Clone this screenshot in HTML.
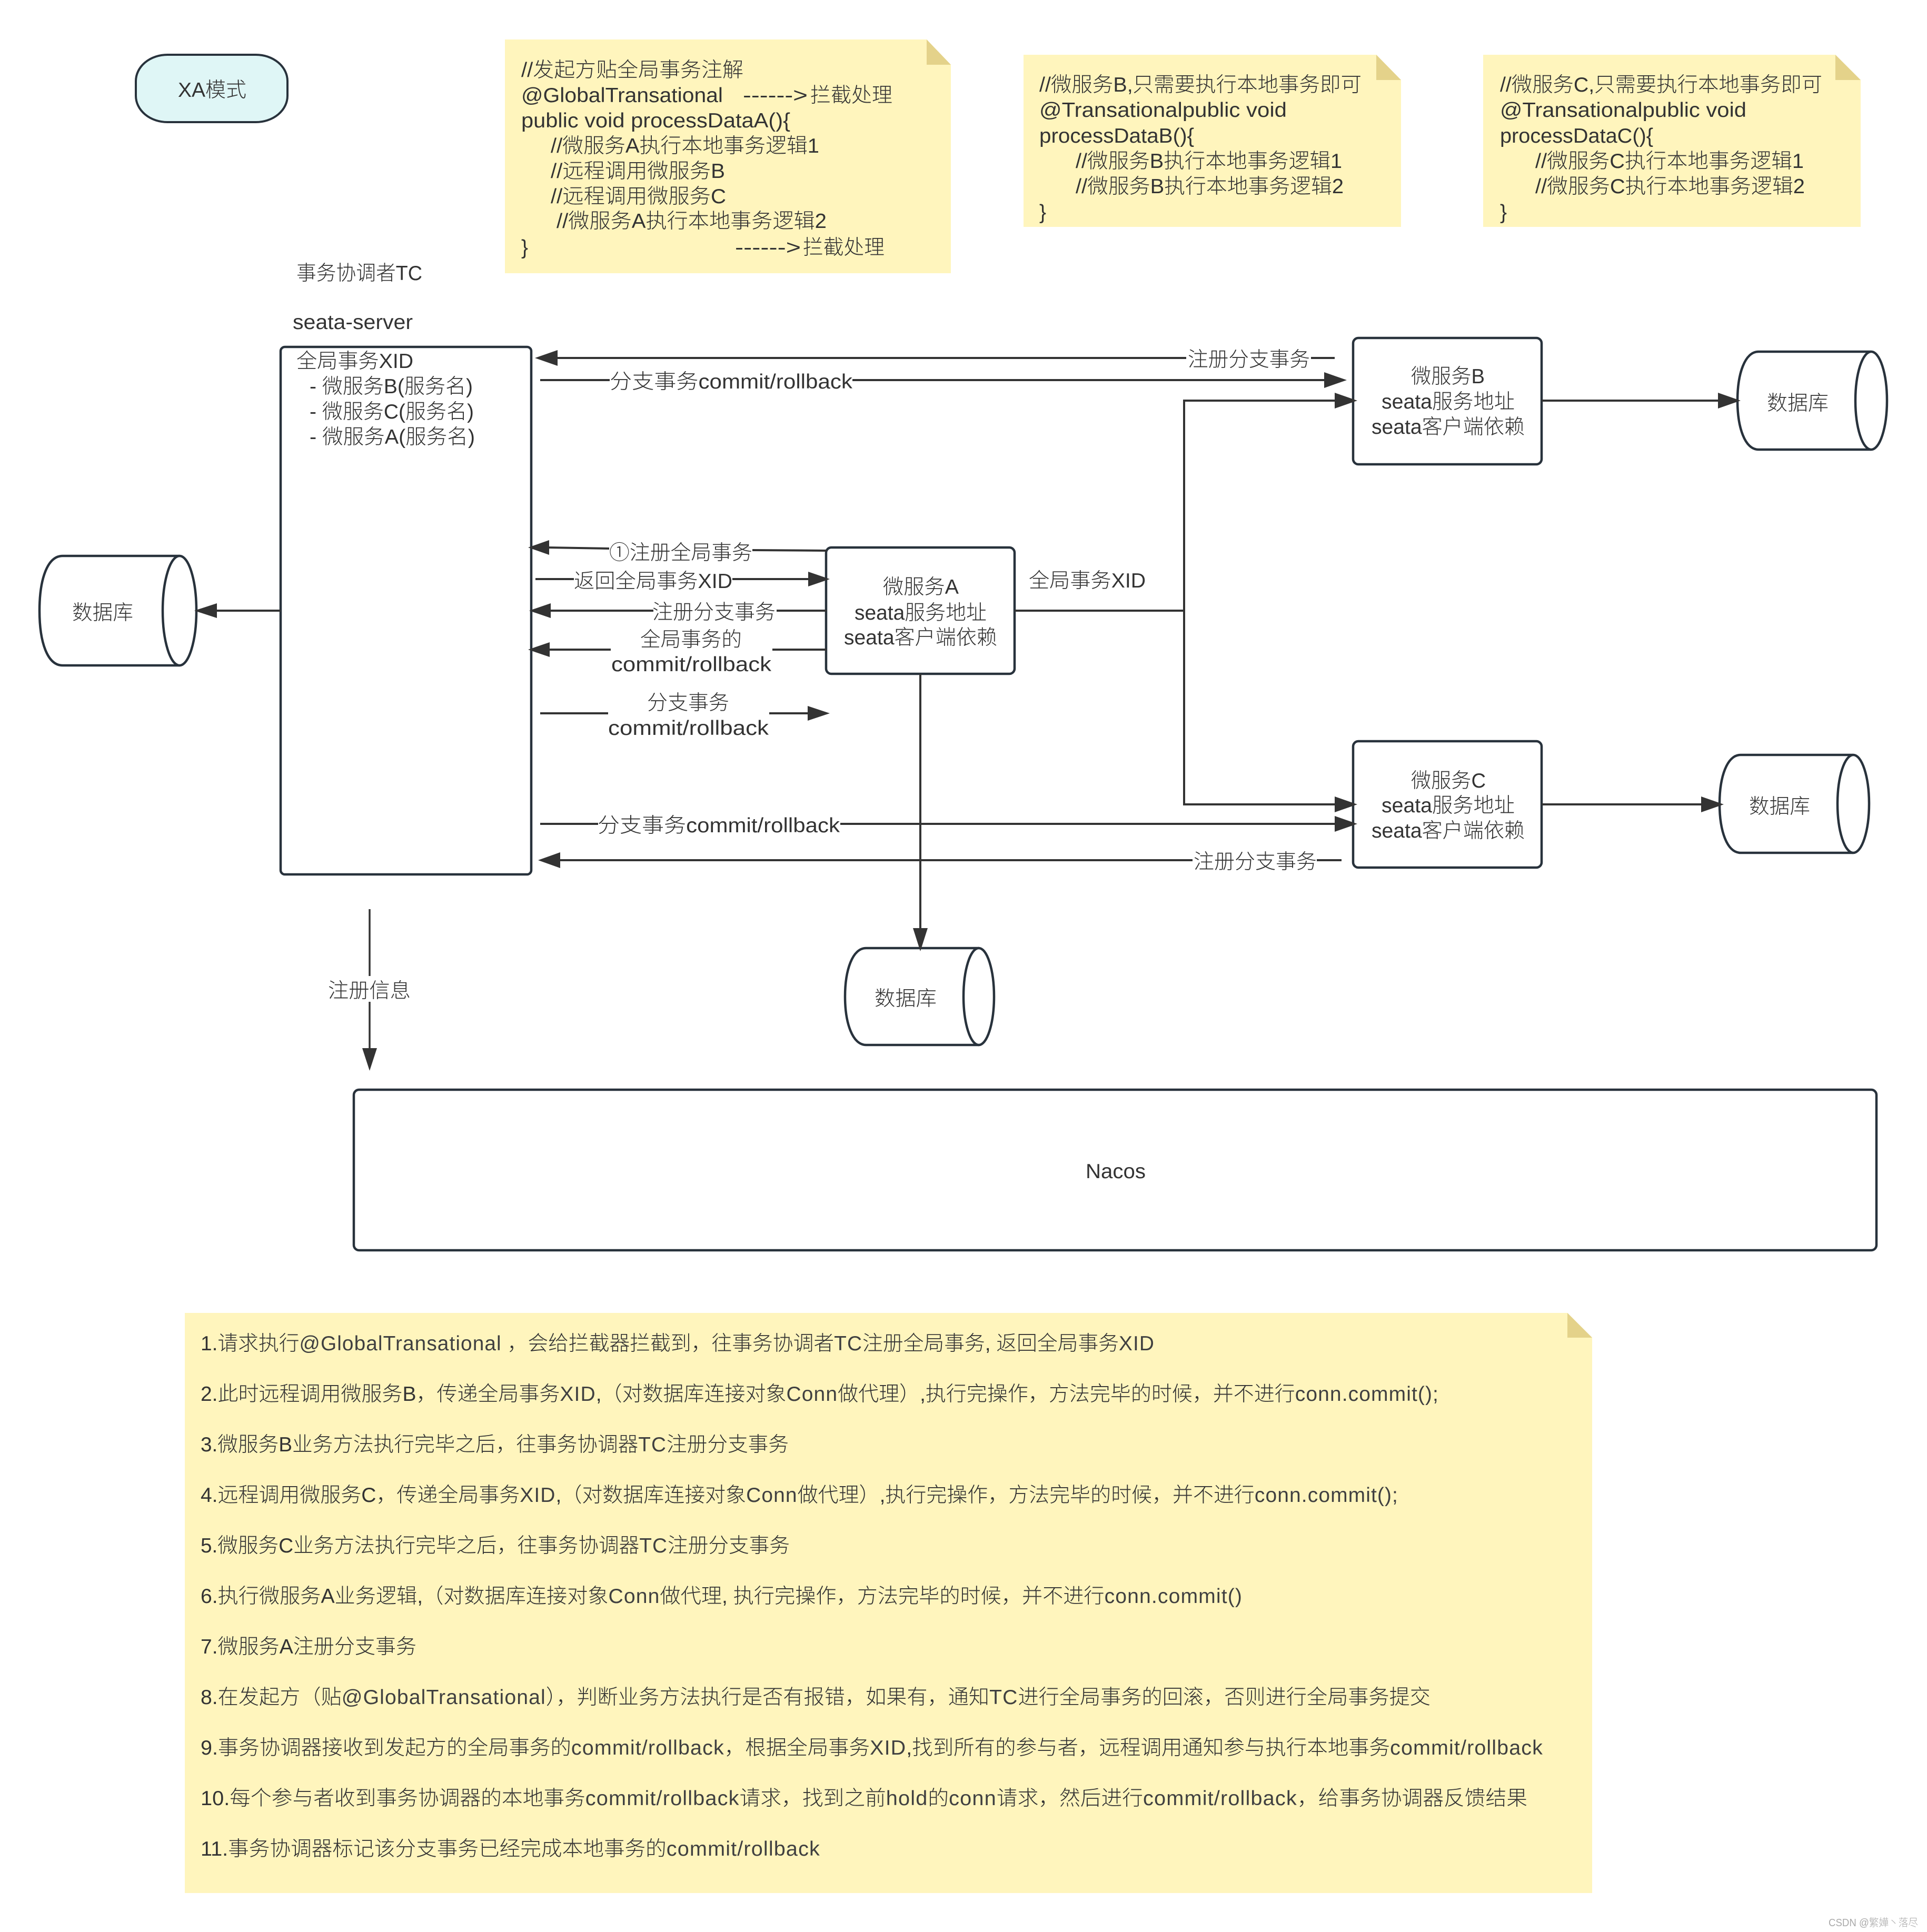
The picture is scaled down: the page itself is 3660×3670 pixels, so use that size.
<!DOCTYPE html>
<html><head><meta charset="utf-8"><style>
html,body{margin:0;padding:0;background:#fff;width:3660px;height:3670px;overflow:hidden}
svg{display:block}
text{font-family:"Liberation Sans","Noto Sans CJK SC",sans-serif;font-size:39px;fill:#333;white-space:pre;font-weight:300}
.a{letter-spacing:1.1px;fill:#404040}
.b{fill:#fff;stroke:#28323c;stroke-width:4.5;stroke-linejoin:round}
.l{stroke:#333;stroke-width:4;fill:none}
.h{fill:#333;stroke:none}
.n{fill:#fff5bd}.f{fill:#e4d28a}
</style></head><body>
<svg width="3660" height="3670" viewBox="0 0 3660 3670" xmlns="http://www.w3.org/2000/svg">
<rect width="3660" height="3670" fill="#fff"/>

<rect x="258" y="104" width="288" height="128" rx="60" ry="50" fill="#dff6f6" stroke="#28323c" stroke-width="4"/>
<text x="338" y="184" textLength="130" lengthAdjust="spacingAndGlyphs">XA模式</text>

<!-- notes -->
<polygon class="n" points="959,75 1760,75 1806,123 1806,519 959,519"/><polygon class="f" points="1760,75 1806,123 1760,123"/>
<text x="990" y="146" textLength="422" lengthAdjust="spacingAndGlyphs">//发起方贴全局事务注解</text>
<text x="990" y="194" textLength="383" lengthAdjust="spacingAndGlyphs">@GlobalTransational</text>
<text x="1411" y="194" textLength="123" lengthAdjust="spacingAndGlyphs">------&gt;</text>
<text x="1539" y="194" textLength="156" lengthAdjust="spacingAndGlyphs">拦截处理</text>
<text x="990" y="242" textLength="511" lengthAdjust="spacingAndGlyphs">public void processDataA(){</text>
<text x="1046" y="290" textLength="510" lengthAdjust="spacingAndGlyphs">//微服务A执行本地事务逻辑1</text>
<text x="1046" y="338" textLength="331" lengthAdjust="spacingAndGlyphs">//远程调用微服务B</text>
<text x="1046" y="386" textLength="333" lengthAdjust="spacingAndGlyphs">//远程调用微服务C</text>
<text x="1057" y="433" textLength="513" lengthAdjust="spacingAndGlyphs">//微服务A执行本地事务逻辑2</text>
<text x="990" y="483">}</text>
<text x="1396" y="483" textLength="125" lengthAdjust="spacingAndGlyphs">------&gt;</text>
<text x="1525" y="483" textLength="155" lengthAdjust="spacingAndGlyphs">拦截处理</text>

<polygon class="n" points="1944,104 2614,104 2661,152 2661,431 1944,431"/><polygon class="f" points="2614,104 2661,152 2614,152"/>
<text x="1974" y="174" textLength="612" lengthAdjust="spacingAndGlyphs">//微服务B,只需要执行本地事务即可</text>
<text x="1974" y="222" textLength="470" lengthAdjust="spacingAndGlyphs">@Transationalpublic void</text>
<text x="1974" y="271" textLength="294" lengthAdjust="spacingAndGlyphs">processDataB(){</text>
<text x="2043" y="319" textLength="506" lengthAdjust="spacingAndGlyphs">//微服务B执行本地事务逻辑1</text>
<text x="2043" y="367" textLength="509" lengthAdjust="spacingAndGlyphs">//微服务B执行本地事务逻辑2</text>
<text x="1974" y="416">}</text>

<polygon class="n" points="2817,104 3486,104 3534,152 3534,431 2817,431"/><polygon class="f" points="3486,104 3534,152 3486,152"/>
<text x="2849" y="174" textLength="612" lengthAdjust="spacingAndGlyphs">//微服务C,只需要执行本地事务即可</text>
<text x="2849" y="222" textLength="468" lengthAdjust="spacingAndGlyphs">@Transationalpublic void</text>
<text x="2849" y="271" textLength="291" lengthAdjust="spacingAndGlyphs">processDataC(){</text>
<text x="2916" y="319" textLength="510" lengthAdjust="spacingAndGlyphs">//微服务C执行本地事务逻辑1</text>
<text x="2916" y="367" textLength="512" lengthAdjust="spacingAndGlyphs">//微服务C执行本地事务逻辑2</text>
<text x="2849" y="416">}</text>

<!-- TC -->
<text x="563" y="532" textLength="239" lengthAdjust="spacingAndGlyphs">事务协调者TC</text>
<text x="556" y="625" textLength="228" lengthAdjust="spacingAndGlyphs">seata-server</text>
<rect class="b" x="533" y="659" width="476" height="1002" rx="8"/>
<text x="563" y="699" textLength="222" lengthAdjust="spacingAndGlyphs">全局事务XID</text>
<text x="588" y="747" textLength="310" lengthAdjust="spacingAndGlyphs">- 微服务B(服务名)</text>
<text x="588" y="795" textLength="312" lengthAdjust="spacingAndGlyphs">- 微服务C(服务名)</text>
<text x="588" y="843" textLength="314" lengthAdjust="spacingAndGlyphs">- 微服务A(服务名)</text>

<!-- left DB -->
<path class="b" d="M341,1056H119C90,1056 75,1100 75,1160C75,1220 90,1264 119,1264H341"/>
<ellipse class="b" cx="341" cy="1160" rx="32" ry="104"/>
<text x="137" y="1177" textLength="116" lengthAdjust="spacingAndGlyphs">数据库</text>
<path class="l" d="M533,1160H410"/><polygon class="h" points="369,1160 412,1146 412,1174"/>

<!-- boxes first so arrowheads overlap them -->
<rect class="b" x="2570" y="642" width="358" height="240" rx="10"/>
<rect class="b" x="1569" y="1040" width="358" height="240" rx="10"/>
<rect class="b" x="2570" y="1408" width="358" height="240" rx="10"/>

<!-- top connectors -->
<path class="l" d="M1050,680H2253M2490,680H2535"/><polygon class="h" points="1016,680 1059,665 1059,695"/>
<text x="2256" y="696" textLength="232" lengthAdjust="spacingAndGlyphs">注册分支事务</text>
<path class="l" d="M1026,722H1158M1619,722H2520"/><polygon class="h" points="2558,722 2515,707 2515,737"/>
<text x="1158" y="738" textLength="461" lengthAdjust="spacingAndGlyphs">分支事务commit/rollback</text>

<!-- B -->
<text x="2680" y="728" textLength="140" lengthAdjust="spacingAndGlyphs">微服务B</text>
<text x="2624" y="776" textLength="253" lengthAdjust="spacingAndGlyphs">seata服务地址</text>
<text x="2605" y="824" textLength="291" lengthAdjust="spacingAndGlyphs">seata客户端依赖</text>
<path class="l" d="M2928,761H3270"/>
<path class="b" d="M3554,668H3340C3314,668 3300,710 3300,761C3300,812 3314,854 3340,854H3554"/>
<ellipse class="b" cx="3554" cy="761" rx="30" ry="93"/>
<polygon class="h" points="3306,761 3263,746 3263,776"/>
<text x="3356" y="779" textLength="117" lengthAdjust="spacingAndGlyphs">数据库</text>

<!-- A internal connectors -->
<path class="l" d="M1570,1046L1429,1045M1157,1042L1040,1040"/><polygon class="h" points="1003,1040 1043,1026 1043,1054"/>
<text x="1157" y="1063" textLength="272" lengthAdjust="spacingAndGlyphs">①注册全局事务</text>
<path class="l" d="M1017,1100H1090M1391,1100H1540"/><polygon class="h" points="1576,1100 1535,1086 1535,1114"/>
<text x="1090" y="1117" textLength="301" lengthAdjust="spacingAndGlyphs">返回全局事务XID</text>
<path class="l" d="M1570,1160H1475M1241,1160H1040"/><polygon class="h" points="1005,1160 1046,1146 1046,1174"/>
<text x="1239" y="1176" textLength="234" lengthAdjust="spacingAndGlyphs">注册分支事务</text>
<path class="l" d="M1570,1234H1467M1160,1234H1040"/><polygon class="h" points="1003,1234 1044,1220 1044,1248"/>
<text x="1216" y="1228" textLength="193" lengthAdjust="spacingAndGlyphs">全局事务的</text>
<text x="1161" y="1275" textLength="304" lengthAdjust="spacingAndGlyphs">commit/rollback</text>
<path class="l" d="M1026,1355H1155M1461,1355H1535"/><polygon class="h" points="1576,1355 1534,1341 1534,1369"/>
<text x="1229" y="1348" textLength="156" lengthAdjust="spacingAndGlyphs">分支事务</text>
<text x="1155" y="1396" textLength="305" lengthAdjust="spacingAndGlyphs">commit/rollback</text>

<!-- A to B/C -->
<path class="l" d="M1927,1160H2249M2540,761H2249V1528H2540"/>
<polygon class="h" points="2578,761 2535,746 2535,776"/><polygon class="h" points="2578,1528 2535,1513 2535,1543"/>
<text x="1954" y="1116" textLength="222" lengthAdjust="spacingAndGlyphs">全局事务XID</text>

<!-- C connectors -->
<path class="l" d="M1026,1565H1136M1596,1565H2540"/><polygon class="h" points="2578,1565 2535,1550 2535,1580"/>
<text x="1135" y="1581" textLength="460" lengthAdjust="spacingAndGlyphs">分支事务commit/rollback</text>
<path class="l" d="M1060,1634H2265M2501,1634H2548"/><polygon class="h" points="1022,1634 1064,1619 1064,1649"/>
<text x="2267" y="1650" textLength="234" lengthAdjust="spacingAndGlyphs">注册分支事务</text>

<!-- A to DB -->
<path class="l" d="M1748,1280V1770"/>
<path class="b" d="M1860,1801H1645C1619,1801 1605,1843 1605,1893C1605,1943 1619,1985 1645,1985H1860"/>
<ellipse class="b" cx="1859" cy="1893" rx="29" ry="92"/>
<polygon class="h" points="1748,1807 1734,1763 1762,1763"/>
<text x="1661" y="1910" textLength="118" lengthAdjust="spacingAndGlyphs">数据库</text>

<!-- A text -->
<text x="1677" y="1128" textLength="144" lengthAdjust="spacingAndGlyphs">微服务A</text>
<text x="1623" y="1177" textLength="251" lengthAdjust="spacingAndGlyphs">seata服务地址</text>
<text x="1603" y="1224" textLength="291" lengthAdjust="spacingAndGlyphs">seata客户端依赖</text>

<!-- C -->
<text x="2680" y="1496" textLength="142" lengthAdjust="spacingAndGlyphs">微服务C</text>
<text x="2624" y="1543" textLength="253" lengthAdjust="spacingAndGlyphs">seata服务地址</text>
<text x="2605" y="1591" textLength="291" lengthAdjust="spacingAndGlyphs">seata客户端依赖</text>
<path class="l" d="M2928,1528H3240"/>
<path class="b" d="M3520,1434H3306C3280,1434 3266,1476 3266,1527C3266,1578 3280,1620 3306,1620H3520"/>
<ellipse class="b" cx="3520" cy="1527" rx="30" ry="93"/>
<polygon class="h" points="3274,1528 3231,1513 3231,1543"/>
<text x="3322" y="1545" textLength="116" lengthAdjust="spacingAndGlyphs">数据库</text>

<!-- registration -->
<path class="l" style="stroke-width:3.5" d="M702,1727V1854M702,1903V1995"/><polygon class="h" points="702,2034 688,1991 716,1991"/>
<text x="623" y="1895" textLength="157" lengthAdjust="spacingAndGlyphs">注册信息</text>

<!-- Nacos -->
<rect class="b" x="672" y="2070" width="2892" height="305" rx="10"/>
<text x="2062" y="2238" textLength="114" lengthAdjust="spacingAndGlyphs">Nacos</text>

<!-- bottom note -->
<polygon class="n" points="351,2494 2977,2494 3024,2541 3024,3596 351,3596"/><polygon class="f" points="2977,2494 3024,2541 2977,2541"/>
<text x="381" y="2565" textLength="1812" lengthAdjust="spacingAndGlyphs">1.请求执行<tspan class="a">@GlobalTransational</tspan> ，会给拦截器拦截到，往事务协调者<tspan class="a">TC</tspan>注册全局事务, 返回全局事务<tspan class="a">XID</tspan></text>
<text x="381" y="2661" textLength="2352" lengthAdjust="spacingAndGlyphs">2.此时远程调用微服务B，传递全局事务<tspan class="a">XID</tspan>,（对数据库连接对象<tspan class="a">Conn</tspan>做代理）,执行完操作，方法完毕的时候，并不进行<tspan class="a">conn.commit();</tspan></text>
<text x="381" y="2757" textLength="1117" lengthAdjust="spacingAndGlyphs">3.微服务B业务方法执行完毕之后，往事务协调器<tspan class="a">TC</tspan>注册分支事务</text>
<text x="381" y="2853" textLength="2275" lengthAdjust="spacingAndGlyphs">4.远程调用微服务C，传递全局事务<tspan class="a">XID</tspan>,（对数据库连接对象<tspan class="a">Conn</tspan>做代理）,执行完操作，方法完毕的时候，并不进行<tspan class="a">conn.commit();</tspan></text>
<text x="381" y="2949" textLength="1119" lengthAdjust="spacingAndGlyphs">5.微服务C业务方法执行完毕之后，往事务协调器<tspan class="a">TC</tspan>注册分支事务</text>
<text x="381" y="3045" textLength="1979" lengthAdjust="spacingAndGlyphs">6.执行微服务A业务逻辑,（对数据库连接对象<tspan class="a">Conn</tspan>做代理, 执行完操作，方法完毕的时候，并不进行<tspan class="a">conn.commit()</tspan></text>
<text x="381" y="3141" textLength="410" lengthAdjust="spacingAndGlyphs">7.微服务A注册分支事务</text>
<text x="381" y="3237" textLength="2336" lengthAdjust="spacingAndGlyphs">8.在发起方（贴<tspan class="a">@GlobalTransational</tspan>），判断业务方法执行是否有报错，如果有，通知<tspan class="a">TC</tspan>进行全局事务的回滚，否则进行全局事务提交</text>
<text x="381" y="3333" textLength="2550" lengthAdjust="spacingAndGlyphs">9.事务协调器接收到发起方的全局事务的<tspan class="a">commit/rollback</tspan>，根据全局事务<tspan class="a">XID</tspan>,找到所有的参与者，远程调用通知参与执行本地事务<tspan class="a">commit/rollback</tspan></text>
<text x="381" y="3429" textLength="2520" lengthAdjust="spacingAndGlyphs">10.每个参与者收到事务协调器的本地事务<tspan class="a">commit/rollback</tspan>请求，找到之前<tspan class="a">hold</tspan>的<tspan class="a">conn</tspan>请求，然后进行<tspan class="a">commit/rollback</tspan>，给事务协调器反馈结果</text>
<text x="381" y="3525" textLength="1177" lengthAdjust="spacingAndGlyphs">11.事务协调器标记该分支事务已经完成本地事务的<tspan class="a">commit/rollback</tspan></text>

<text x="3473" y="3659" textLength="170" lengthAdjust="spacingAndGlyphs" style="font-size:20px;fill:#aaa">CSDN @繁嬅丶落尽</text>
</svg>
</body></html>
